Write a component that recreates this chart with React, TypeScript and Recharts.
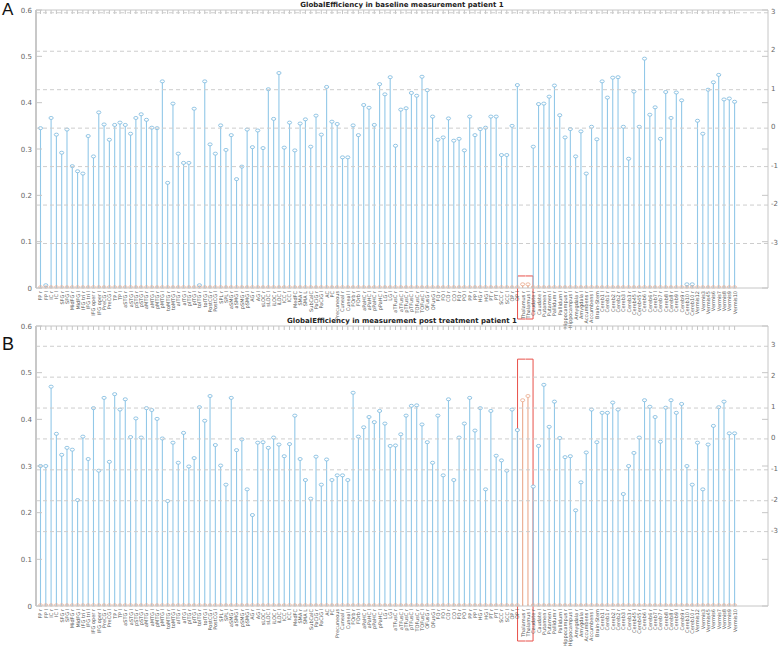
import { BarChart, Bar, XAxis, YAxis, ReferenceLine } from "recharts";

// CONN atlas regions (132)
const regions = [
  "FP r", "FP l", "IC r", "IC l", "SFG r", "SFG l", "MidFG r", "MidFG l", "IFG tri r", "IFG tri l",
  "IFG oper r", "IFG oper l", "PreCG r", "PreCG l", "TP r", "TP l", "aSTG r", "aSTG l", "pSTG r", "pSTG l",
  "aMTG r", "aMTG l", "pMTG r", "pMTG l", "toMTG r", "toMTG l", "aITG r", "aITG l", "pITG r", "pITG l",
  "toITG r", "toITG l", "PostCG r", "PostCG l", "SPL r", "SPL l", "aSMG r", "aSMG l", "pSMG r", "pSMG l",
  "AG r", "AG l", "sLOC r", "sLOC l", "iLOC r", "iLOC l", "ICC r", "ICC l", "MedFC", "SMA r",
  "SMA L", "SubCalC", "PaCiG r", "PaCiG l", "AC", "PC", "Precuneous", "Cuneal r", "Cuneal l", "FOrb r",
  "FOrb l", "aPaHC r", "aPaHC l", "pPaHC r", "pPaHC l", "LG r", "LG l", "aTFusC r", "aTFusC l", "pTFusC r",
  "pTFusC l", "TOFusC r", "TOFusC l", "OFusG r", "OFusG l", "FO r", "FO l", "CO r", "CO l", "PO r",
  "PO l", "PP r", "PP l", "HG r", "HG l", "PT r", "PT l", "SCC r", "SCC l", "OP r",
  "OP l", "Thalamus r", "Thalamus l", "Caudate r", "Caudate l", "Putamen r", "Putamen l", "Pallidum r", "Pallidum l", "Hippocampus r",
  "Hippocampus l", "Amygdala r", "Amygdala l", "Accumbens r", "Accumbens l", "Brain-Stem", "Cereb1 l", "Cereb1 r", "Cereb2 l", "Cereb2 r",
  "Cereb3 l", "Cereb3 r", "Cereb45 l", "Cereb45 r", "Cereb6 l", "Cereb6 r", "Cereb7 l", "Cereb7 r", "Cereb8 l", "Cereb8 r",
  "Cereb9 l", "Cereb9 r", "Cereb10 l", "Cereb10 r", "Vermis12", "Vermis3", "Vermis45", "Vermis6", "Vermis7", "Vermis8",
  "Vermis9", "Vermis10",
];

const highlighted = ["Thalamus r", "Thalamus l"];

const baseline = [
  0.345, 0.006, 0.367, 0.331, 0.292, 0.342, 0.263, 0.252, 0.247, 0.328,
  0.284, 0.379, 0.353, 0.320, 0.352, 0.357, 0.352, 0.333, 0.367, 0.375,
  0.363, 0.346, 0.345, 0.446, 0.227, 0.398, 0.290, 0.270, 0.270, 0.387,
  0.006, 0.446, 0.310, 0.290, 0.351, 0.298, 0.330, 0.235, 0.262, 0.342,
  0.304, 0.340, 0.302, 0.429, 0.365, 0.464, 0.303, 0.357, 0.297, 0.355,
  0.364, 0.305, 0.372, 0.331, 0.434, 0.359, 0.354, 0.282, 0.282, 0.351,
  0.330, 0.395, 0.389, 0.352, 0.440, 0.418, 0.455, 0.307, 0.385, 0.388,
  0.421, 0.415, 0.456, 0.427, 0.370, 0.320, 0.325, 0.366, 0.318, 0.322,
  0.297, 0.370, 0.330, 0.343, 0.346, 0.370, 0.370, 0.287, 0.287, 0.350,
  0.438, 0.008, 0.008, 0.305, 0.397, 0.398, 0.413, 0.437, 0.373, 0.325,
  0.343, 0.284, 0.338, 0.247, 0.348, 0.321, 0.446, 0.411, 0.454, 0.455,
  0.348, 0.279, 0.424, 0.348, 0.495, 0.374, 0.390, 0.322, 0.423, 0.367,
  0.422, 0.405, 0.008, 0.008, 0.361, 0.333, 0.428, 0.444, 0.460, 0.407,
  0.409, 0.402,
];

const postTreatment = [
  0.300, 0.300, 0.470, 0.369, 0.324, 0.339, 0.335, 0.227, 0.363, 0.315,
  0.424, 0.290, 0.446, 0.309, 0.454, 0.421, 0.443, 0.362, 0.402, 0.361,
  0.424, 0.420, 0.401, 0.359, 0.225, 0.350, 0.307, 0.371, 0.299, 0.317,
  0.426, 0.397, 0.450, 0.345, 0.301, 0.260, 0.446, 0.334, 0.357, 0.250,
  0.195, 0.350, 0.351, 0.339, 0.361, 0.346, 0.321, 0.347, 0.408, 0.315,
  0.270, 0.230, 0.320, 0.260, 0.314, 0.270, 0.280, 0.280, 0.270, 0.457,
  0.363, 0.383, 0.405, 0.394, 0.418, 0.391, 0.343, 0.344, 0.368, 0.408,
  0.429, 0.430, 0.389, 0.351, 0.307, 0.408, 0.280, 0.443, 0.270, 0.361,
  0.391, 0.446, 0.376, 0.424, 0.250, 0.418, 0.322, 0.312, 0.290, 0.421,
  0.377, 0.441, 0.450, 0.256, 0.343, 0.474, 0.384, 0.438, 0.360, 0.319,
  0.321, 0.205, 0.265, 0.329, 0.421, 0.351, 0.414, 0.414, 0.436, 0.421,
  0.240, 0.300, 0.328, 0.361, 0.441, 0.427, 0.405, 0.352, 0.425, 0.441,
  0.414, 0.433, 0.300, 0.260, 0.350, 0.250, 0.346, 0.386, 0.426, 0.438,
  0.370, 0.370,
];

const valueTicks = [0, 0.1, 0.2, 0.3, 0.4, 0.5, 0.6];
const zTicks = [-3, -2, -1, 0, 1, 2, 3];

const BLUE = "#92c8e8";
const BLUE_DARK = "#7ab8dd";
const ORANGE = "#eaa98c";
const FRAME = "#c6c6c6";
const PLOT_LEFT = 36;
const PLOT_RIGHT = 768;
const FONT = "DejaVu Sans, sans-serif";

const Stem = (props: any) => {
  const { x, y, width, height, payload } = props;
  const cx = x + width / 2;
  const c = payload.hl ? ORANGE : BLUE;
  const base = y + height;
  return (
    <g>
      <line x1={cx} x2={cx} y1={y} y2={base} stroke={c} strokeWidth={1.1} />
      <ellipse cx={cx} cy={y} rx={2.1} ry={1.5} fill="#fff" stroke={payload.hl ? ORANGE : BLUE_DARK} strokeWidth={0.8} />
      {!payload.hl && <ellipse cx={cx} cy={base - 1} rx={2} ry={1.2} fill="none" stroke={ORANGE} strokeWidth={0.7} />}
    </g>
  );
};

const makeColumn = (rows: any[], boxTop: number, boxBelow: number) => (props: any) => {
  const { x, y, width, height, index } = props;
  const cx = x + width / 2;
  const row = rows[index];
  const parts = [
    <line key="t" x1={cx} x2={cx} y1={y} y2={y + 4} stroke="#aaa" strokeWidth={0.7} />,
    <line key="b" x1={cx} x2={cx} y1={y + height - 2} y2={y + height} stroke="#aaa" strokeWidth={0.7} />,
  ];
  if (row && row.hl) {
    const first = !rows[index - 1]?.hl;
    const last = !rows[index + 1]?.hl;
    const x0 = first ? x - 2.6 : x;
    const x1 = last ? x + width + 2.6 : x + width;
    const top = y + height * (1 - boxTop / 0.6);
    const bot = y + height + boxBelow;
    parts.push(<line key="bt" x1={x0} x2={x1} y1={top} y2={top} stroke="#e8504a" strokeWidth={1} />);
    parts.push(<line key="bb" x1={x0} x2={x1} y1={bot} y2={bot} stroke="#e8504a" strokeWidth={1} />);
    if (first) parts.push(<line key="bl" x1={x0} x2={x0} y1={top} y2={bot} stroke="#e8504a" strokeWidth={1} />);
    if (last) parts.push(<line key="br" x1={x1} x2={x1} y1={top} y2={bot} stroke="#e8504a" strokeWidth={1} />);
  }
  return <g>{parts}</g>;
};

const RegionTick = ({ x, y, payload }: any) => (
  <text x={x} y={y} transform={`rotate(-90 ${x} ${y})`} textAnchor="end" dy={1.8}
    fontSize={5} fill="#555" fontFamily={FONT}>{payload.value}</text>
);

const ValueTick = ({ x, y, payload }: any) => (
  <g>
    <text x={x} y={y} dy={2.5} textAnchor="end" fontSize={7} fill="#666" fontFamily={FONT}>{payload.value}</text>
    <line x1={PLOT_LEFT} x2={PLOT_LEFT + 6} y1={y} y2={y} stroke={FRAME} />
    <line x1={PLOT_RIGHT - 6} x2={PLOT_RIGHT} y1={y} y2={y} stroke={FRAME} />
  </g>
);

const ZLabel = ({ viewBox, text }: any) => (
  <text x={viewBox.x + viewBox.width + 3} y={viewBox.y + 1} textAnchor="start" fontSize={7} fill="#666" fontFamily={FONT}>{text}</text>
);

interface PanelProps {
  letter: string;
  title: string;
  values: number[];
  mean: number;
  sd: number;
  boxTop: number;
  boxBelow: number;
  top: number;
  height: number;
  axisHeight: number;
}

const Panel = ({ letter, title, values, mean, sd, boxTop, boxBelow, top, height, axisHeight }: PanelProps) => {
  const rows = regions.map((name, i) => ({ name, value: values[i], hl: highlighted.includes(name) }));
  return (
    <div style={{ position: "absolute", left: 0, top, width: 778, height }}>
      <BarChart width={778} height={height} data={rows} margin={{ top: 10, right: 0, bottom: 0, left: 0 }} barCategoryGap={0}>
        <XAxis xAxisId="x" dataKey="name" interval={0} tick={<RegionTick />} tickLine={false} tickSize={0} tickMargin={3}
          height={axisHeight} padding={{ left: 2, right: 30.6 }} axisLine={{ stroke: FRAME }} />
        <YAxis yAxisId="v" type="number" domain={[0, 0.6]} ticks={valueTicks} interval={0} width={PLOT_LEFT} tick={<ValueTick />}
          tickLine={false} tickSize={0} tickMargin={4} axisLine={{ stroke: "#c8c8c8", strokeWidth: 2 }} />
        <YAxis yAxisId="frame" orientation="right" type="number" domain={[0, 1]} width={10} tick={false}
          tickLine={false} axisLine={{ stroke: FRAME }} />
        <ReferenceLine xAxisId="x" yAxisId="v" y={0.6} stroke={FRAME} />
        {zTicks.map((z) => (
          <ReferenceLine key={z} xAxisId="x" yAxisId="v" y={mean + z * sd} stroke="#cdcdcd" strokeDasharray="4 3"
            label={<ZLabel text={String(z)} />} />
        ))}
        <Bar xAxisId="x" yAxisId="v" dataKey="value" isAnimationActive={false} shape={<Stem />}
          background={makeColumn(rows, boxTop, boxBelow)} />
      </BarChart>
      <div style={{ position: "absolute", left: PLOT_LEFT, width: PLOT_RIGHT - PLOT_LEFT, top: 1, textAlign: "center",
        fontFamily: FONT, fontWeight: "bold", fontSize: 7, color: "#222", lineHeight: "8px" }}>{title}</div>
      <div style={{ position: "absolute", left: 2, top: letter === "A" ? 1 : 19, fontFamily: "Liberation Sans, Arial, sans-serif",
        fontSize: letter === "A" ? 17 : 18, color: "#111", lineHeight: 1 }}>{letter}</div>
    </div>
  );
};

export default function App() {
  return (
    <div style={{ position: "absolute", left: 0, top: 0, width: 778, height: 646, background: "#fff", overflow: "hidden" }}>
      <Panel letter="A" title="GlobalEfficiency in baseline measurement patient 1" values={baseline}
        mean={0.345} sd={0.083} boxTop={0.026} boxBelow={31} top={0} height={334} axisHeight={46} />
      <Panel letter="B" title="GlobalEfficiency in measurement post treatment patient 1" values={postTreatment}
        mean={0.358} sd={0.0662} boxTop={0.529} boxBelow={35} top={316} height={330} axisHeight={40} />
    </div>
  );
}
